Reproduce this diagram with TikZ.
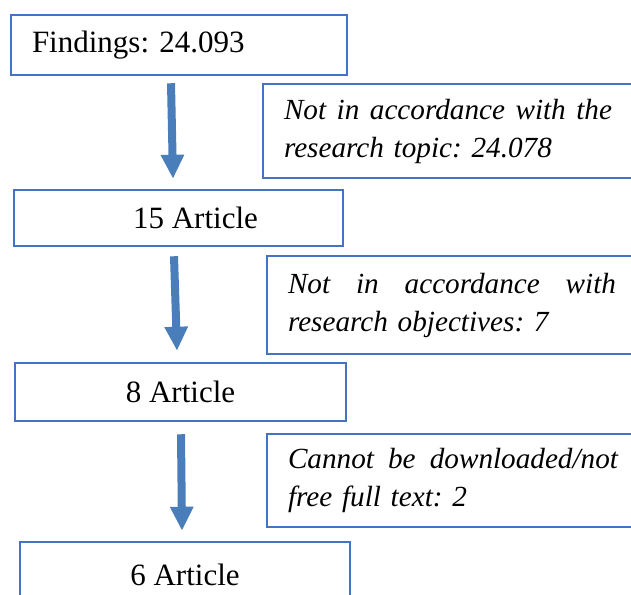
\documentclass[tikz,border=0pt]{standalone}
\usepackage{fontspec}
\setmainfont{Liberation Serif}
\usetikzlibrary{arrows.meta}
\definecolor{boxblue}{HTML}{4472C4}
\definecolor{arrblue}{HTML}{4A7EBB}
\begin{document}
\begin{tikzpicture}[x=1pt,y=-1pt,
  box/.style={draw=boxblue,line width=2.5pt,rectangle,inner sep=0pt,
    font=\fontsize{31}{37}\selectfont\frenchspacing},
  note/.style={draw=boxblue,line width=2.5pt,rectangle,inner ysep=0pt,inner xsep=21pt,
    align=left,font=\fontsize{29.2}{38}\selectfont\itshape\frenchspacing},
  arr/.style={draw=arrblue,line width=8pt,-{Triangle[width=22pt,length=24pt]}}]
\useasboundingbox (0,0) rectangle (631,594);
\clip (0,0) rectangle (631,594);
% left column
\node[box,minimum width=336pt,minimum height=60pt,text width=294pt,align=left,inner xsep=21pt] (b1) at (179,45) {Findings: 24.093};
\node[box,minimum width=329pt,minimum height=56pt] (b2) at (178.5,218) {\hspace*{34pt}15 Article};
\node[box,minimum width=331pt,minimum height=58pt] (b3) at (180.5,392) {8 Article};
\node[box,minimum width=330pt,minimum height=66pt] (b4) at (185,575) {6 Article};
% right column
\node[note,minimum width=417pt,minimum height=94pt,text width=375pt] (r1) at (471.5,131)
  {\makebox[328pt][l]{Not\hfill in\hfill accordance\hfill with\hfill the}\\research topic: 24.078};
\node[note,minimum width=413pt,minimum height=98pt,text width=371pt] (r2) at (473.5,305)
  {\makebox[328pt][l]{Not\hfill in\hfill accordance\hfill with}\\research objectives: 7};
\node[note,minimum width=413pt,minimum height=93pt,text width=371pt] (r3) at (473.5,480.5)
  {\makebox[330pt][l]{Cannot\hfill be\hfill downloaded/not}\\free full text: 2};
% arrows
\draw[arr] ([xshift=-8pt,yshift=-7pt]b1.south) -- ([xshift=-5.5pt,yshift=10pt]b2.north);
\draw[arr] ([xshift=-4.5pt,yshift=-9pt]b2.south) -- ([xshift=-3.5pt,yshift=11pt]b3.north);
\draw[arr] ([xshift=0.5pt,yshift=-12pt]b3.south) -- ([xshift=-3pt,yshift=10pt]b4.north);
\end{tikzpicture}
\end{document}
